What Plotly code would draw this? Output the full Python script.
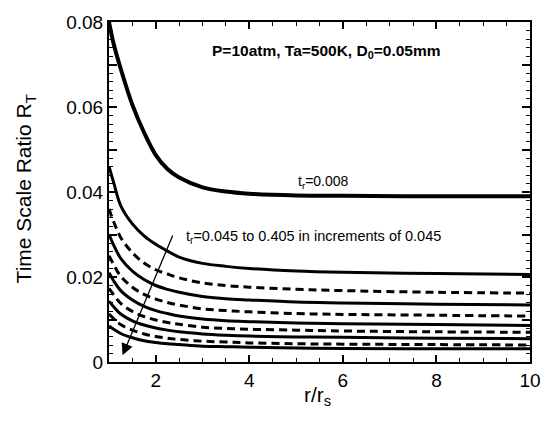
import plotly.graph_objects as go

# Radial positions r/r_s where the curves were sampled
r_ratio = [1.0, 1.1, 1.25, 1.5, 1.75, 2.0, 2.25, 2.5, 3.0, 3.5, 4.0, 5.0, 6.0, 8.0, 10.0]

# Time scale ratio R_T for each residence time t_r
rt_0008 = [0.0800, 0.0748, 0.0690, 0.0605, 0.0540, 0.0487, 0.0454, 0.0434, 0.0411, 0.0401, 0.0396, 0.0392, 0.0391, 0.0390, 0.0390]
rt_0045 = [0.0460, 0.0422, 0.0368, 0.0325, 0.0297, 0.0277, 0.0261, 0.0247, 0.0232, 0.0225, 0.0220, 0.0214, 0.0211, 0.0208, 0.0206]
rt_0090 = [0.0360, 0.0330, 0.0293, 0.0257, 0.0233, 0.0217, 0.0207, 0.0198, 0.0186, 0.0180, 0.0176, 0.0171, 0.0168, 0.0164, 0.0162]
rt_0135 = [0.0300, 0.0275, 0.0244, 0.0214, 0.0194, 0.0180, 0.0171, 0.0164, 0.0154, 0.0149, 0.0146, 0.0141, 0.0139, 0.0136, 0.0134]
rt_0180 = [0.0250, 0.0229, 0.0202, 0.0176, 0.0159, 0.0148, 0.0140, 0.0134, 0.0125, 0.0121, 0.0118, 0.0114, 0.0112, 0.0110, 0.0108]
rt_0225 = [0.0210, 0.0191, 0.0168, 0.0146, 0.0131, 0.0121, 0.0114, 0.0108, 0.0101, 0.0097, 0.0095, 0.0092, 0.0090, 0.0088, 0.0086]
rt_0270 = [0.0173, 0.0158, 0.0138, 0.0119, 0.0107, 0.0099, 0.0093, 0.0089, 0.0082, 0.0079, 0.0077, 0.0075, 0.0073, 0.0071, 0.0070]
rt_0315 = [0.0143, 0.0130, 0.0113, 0.0097, 0.0087, 0.0080, 0.0075, 0.0071, 0.0066, 0.0063, 0.0061, 0.0059, 0.0058, 0.0056, 0.0055]
rt_0360 = [0.0113, 0.0102, 0.0088, 0.0075, 0.0066, 0.0060, 0.0056, 0.0053, 0.0049, 0.0047, 0.0045, 0.0043, 0.0042, 0.0041, 0.0040]
rt_0405 = [0.0085, 0.0077, 0.0067, 0.0057, 0.0050, 0.0046, 0.0043, 0.0041, 0.0037, 0.0036, 0.0035, 0.0033, 0.0032, 0.0031, 0.0031]

series = [
    ("t_r=0.008", rt_0008, "solid", 4.0),
    ("t_r=0.045", rt_0045, "solid", 3.0),
    ("t_r=0.090", rt_0090, "dash", 3.0),
    ("t_r=0.135", rt_0135, "solid", 3.0),
    ("t_r=0.180", rt_0180, "dash", 3.0),
    ("t_r=0.225", rt_0225, "solid", 3.0),
    ("t_r=0.270", rt_0270, "dash", 3.0),
    ("t_r=0.315", rt_0315, "solid", 3.0),
    ("t_r=0.360", rt_0360, "dash", 3.0),
    ("t_r=0.405", rt_0405, "solid", 3.0),
]

y_tick_vals = [0.0, 0.01, 0.02, 0.03, 0.04, 0.05, 0.06, 0.07, 0.08]
y_tick_text = ["0", "", "0.02", "", "0.04", "", "0.06", "", "0.08"]

FONT = "Liberation Sans, Arial, Helvetica, sans-serif"

fig = go.Figure()
for name, vals, dash, width in series:
    fig.add_trace(go.Scatter(
        x=r_ratio, y=vals, name=name, mode="lines",
        line=dict(color="black", width=width, dash="8px,5px" if dash == "dash" else "solid",
                  shape="spline", smoothing=1.0),
        showlegend=False, hoverinfo="skip",
    ))

fig.update_layout(
    width=553, height=426,
    margin=dict(l=109, r=12, t=17, b=64),
    paper_bgcolor="white", plot_bgcolor="white",
    font=dict(family=FONT, color="black"),
)

fig.update_xaxes(
    range=[1, 10], tick0=0, dtick=2,
    ticks="inside", ticklen=7, tickwidth=1.5, tickcolor="black",
    minor=dict(dtick=0.5, ticks="inside", ticklen=4, tickwidth=1.2, tickcolor="black"),
    showline=True, linecolor="black", linewidth=2, mirror="ticks",
    showgrid=False, zeroline=False,
    tickfont=dict(size=19, family=FONT),
)
fig.update_yaxes(
    range=[0, 0.08], tickvals=y_tick_vals, ticktext=y_tick_text,
    ticks="inside", ticklen=8, tickwidth=1.5, tickcolor="black",
    minor=dict(dtick=0.002, tick0=0, ticks="inside", ticklen=4, tickwidth=1.2, tickcolor="black"),
    showline=True, linecolor="black", linewidth=2, mirror="ticks",
    showgrid=False, zeroline=False,
    tickfont=dict(size=19, family=FONT),
)

# Axis titles
fig.add_annotation(
    x=-0.2, y=0.51, xref="paper", yref="paper", xanchor="center", yanchor="middle",
    text="Time Scale Ratio R<sub>T</sub>", textangle=-90, showarrow=False,
    font=dict(size=21, family=FONT),
)
fig.add_annotation(
    x=0.495, y=-0.1, xref="paper", yref="paper", xanchor="center", yanchor="middle",
    text="r/r<sub>s</sub>", showarrow=False,
    font=dict(size=21, family=FONT),
)

# Condition label
fig.add_annotation(
    x=0.516, y=0.913, xref="paper", yref="paper", xanchor="center", yanchor="middle",
    text="<b>P=10atm, Ta=500K, D<sub>0</sub>=0.05mm</b>", showarrow=False,
    font=dict(size=15.5, family=FONT),
)
# Label for the top curve
fig.add_annotation(
    x=5.0, y=0.0423, xref="x", yref="y", xanchor="left", yanchor="middle",
    text="t<sub>r</sub>=0.008", showarrow=False, font=dict(size=14, family=FONT),
)
# Label for the family of curves
fig.add_annotation(
    x=2.6, y=0.0295, xref="x", yref="y", xanchor="left", yanchor="middle",
    text="t<sub>r</sub>=0.045 to 0.405 in increments of 0.045", showarrow=False,
    font=dict(size=14.5, family=FONT),
)
# Arrow pointing toward increasing t_r
fig.add_annotation(
    x=1.29, y=0.0016, ax=2.375, ay=0.0301, xref="x", yref="y", axref="x", ayref="y",
    text="", showarrow=True, arrowhead=2, arrowsize=1.8, arrowwidth=1.3, arrowcolor="black",
)

fig.write_html("out.html")
